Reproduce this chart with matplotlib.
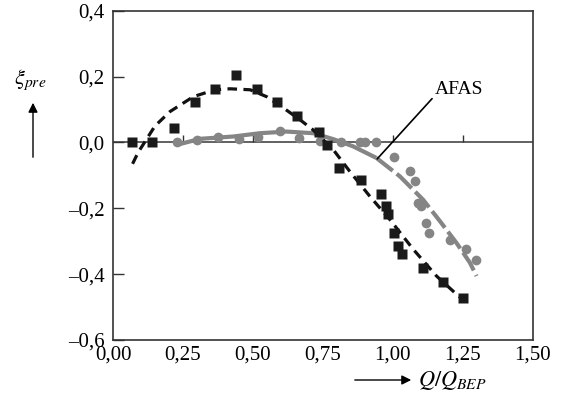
import matplotlib
matplotlib.use('Agg')
import matplotlib.pyplot as plt
from matplotlib.patches import FancyArrowPatch
from matplotlib.ticker import FuncFormatter

# measured points (black squares)
sq_x = [0.067, 0.141, 0.217, 0.293, 0.364, 0.438, 0.513, 0.587, 0.659, 0.736, 0.766,
        0.808, 0.886, 0.957, 0.974, 0.983, 1.004, 1.019, 1.031, 1.108, 1.180, 1.251]
sq_y = [0.0, 0.0, 0.045, 0.124, 0.162, 0.204, 0.162, 0.124, 0.081, 0.031, -0.007,
        -0.078, -0.114, -0.156, -0.194, -0.219, -0.275, -0.315, -0.340, -0.383, -0.424, -0.474]

# black dashed fit
fit_x = [0.070, 0.090, 0.150, 0.204, 0.287, 0.364, 0.418, 0.490, 0.549, 0.602, 0.668,
         0.715, 0.787, 0.846, 0.918, 0.989, 1.073, 1.156, 1.227, 1.251]
fit_y = [-0.065, -0.030, 0.050, 0.094, 0.139, 0.160, 0.163, 0.160, 0.139, 0.109, 0.069,
         0.038, -0.022, -0.088, -0.164, -0.234, -0.325, -0.406, -0.461, -0.478]

# measured points (grey circles)
ci_x = [0.230, 0.299, 0.376, 0.451, 0.519, 0.597, 0.664, 0.739, 0.813, 0.884, 0.902,
        0.941, 1.004, 1.063, 1.079, 1.090, 1.102, 1.118, 1.130, 1.204, 1.263, 1.296]
ci_y = [0.0, 0.008, 0.018, 0.011, 0.018, 0.036, 0.013, 0.003, 0.0, 0.0, 0.0,
        0.0, -0.044, -0.086, -0.118, -0.184, -0.192, -0.246, -0.275, -0.297, -0.325, -0.358]

# AFAS curve (solid part, then dashed part)
afas_x = [0.230, 0.311, 0.430, 0.525, 0.620, 0.716, 0.787, 0.858, 0.941]
afas_y = [-0.007, 0.011, 0.018, 0.028, 0.033, 0.028, 0.010, -0.012, -0.047]
afas2_x = [0.941, 1.025, 1.108, 1.168, 1.227, 1.275, 1.299]
afas2_y = [-0.047, -0.103, -0.174, -0.239, -0.305, -0.365, -0.406]

xticks = [0.0, 0.25, 0.5, 0.75, 1.0, 1.25, 1.5]
yticks = [-0.6, -0.4, -0.2, 0.0, 0.2, 0.4]

plt.rcParams['font.family'] = ['Liberation Serif', 'DejaVu Serif']
plt.rcParams['font.size'] = 15

fig = plt.figure(figsize=(5.65, 4.15), dpi=100)
ax = fig.add_axes([0.2, 0.181, 0.743, 0.793])

grey = '#858585'
ax.axhline(0, color='#555555', lw=1.3, zorder=1)
ax.vlines(xticks[1:-1], 0, 0.022, color='#333333', lw=1.0, zorder=1)

ax.plot(afas_x, afas_y, '-', color=grey, lw=3, zorder=2, solid_capstyle='butt')
ax.plot(afas2_x, afas2_y, color=grey, lw=3, dashes=(5, 1.2), zorder=2)
ax.plot(ci_x, ci_y, 'o', color=grey, ms=7, mec='none', zorder=3)

ax.plot(fit_x, fit_y, color='#111111', lw=2.3, dashes=(3, 2), zorder=4)
ax.plot(sq_x, sq_y, 's', color='#1a1a1a', ms=6.8, mec='none', zorder=5)

ax.annotate('AFAS', xy=(0.944, -0.05), xytext=(1.15, 0.16),
            fontsize=14, va='center', ha='left',
            arrowprops=dict(arrowstyle='-', color='black', lw=1.2,
                            shrinkA=0, shrinkB=0, relpos=(-0.05, 0.0)))

ax.set_xlim(0, 1.5)
ax.set_ylim(-0.6, 0.4)
ax.set_xticks(xticks)
ax.set_yticks(yticks)

def comma(fmt):
    return FuncFormatter(lambda v, p: (fmt % v).replace('.', ',').replace('-', '\u2013'))

ax.xaxis.set_major_formatter(comma('%.2f'))
ax.yaxis.set_major_formatter(comma('%.1f'))
ax.tick_params(axis='x', length=0, pad=4)
ax.tick_params(axis='y', direction='in', length=8, width=1.0, pad=6, color='#333333')
for s in ax.spines.values():
    s.set_linewidth(1.2)
    s.set_color('#333333')

# axis labels with arrows
fig.text(30 / 565, 1 - 80 / 415, r'$\xi_{pre}$', ha='center', va='center',
         fontsize=16, math_fontfamily='stix')
fig.patches.append(FancyArrowPatch(
    (33 / 565, 1 - 160 / 415), (33 / 565, 1 - 100 / 415), transform=fig.transFigure,
    arrowstyle='-|>', mutation_scale=14, color='black', lw=1.0))
fig.patches.append(FancyArrowPatch(
    (352 / 565, 1 - 380 / 415), (414 / 565, 1 - 380 / 415), transform=fig.transFigure,
    arrowstyle='-|>', mutation_scale=14, color='black', lw=1.0))
fig.text(418 / 565, 1 - 380 / 415, r'$Q/Q_{BEP}$', ha='left', va='center',
         fontsize=16, math_fontfamily='stix')

fig.savefig('out.png', dpi=100)
